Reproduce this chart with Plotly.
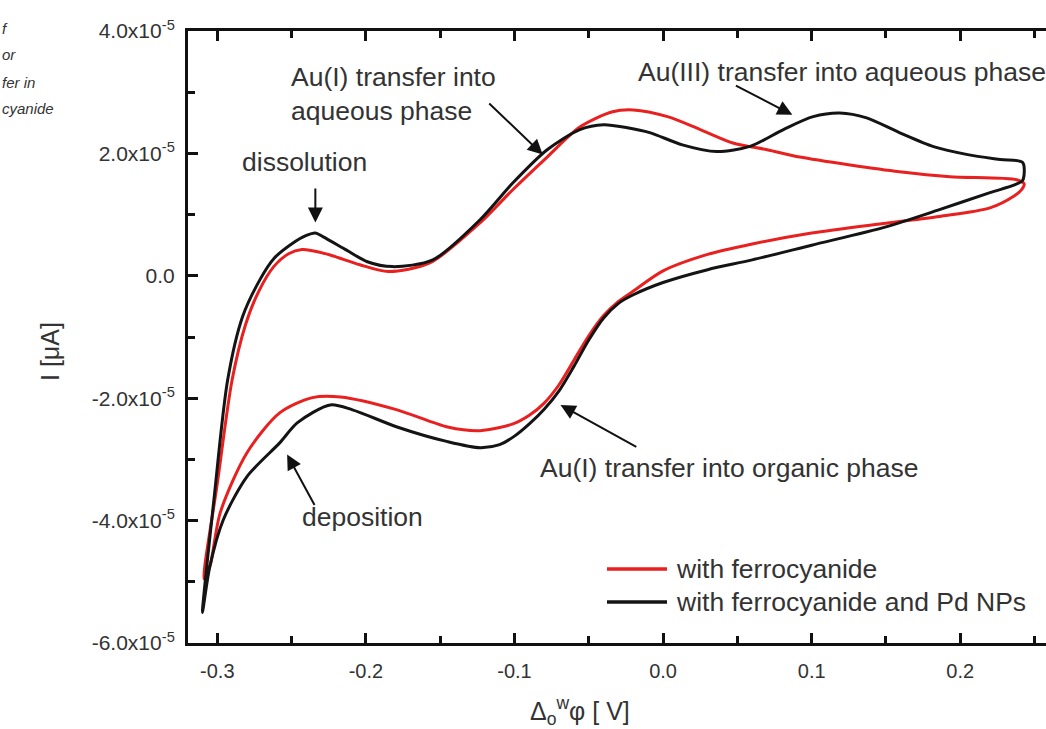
import plotly.graph_objects as go

# Cyclic voltammograms, potential in V, current in units of 1e-5 A
pot_ferro = [-0.309, -0.300, -0.290, -0.281, -0.272, -0.262, -0.252, -0.243, -0.236, -0.224,
             -0.204, -0.185, -0.157, -0.123, -0.101, -0.078, -0.056, -0.034, -0.020, 0.003,
             0.025, 0.047, 0.070, 0.092, 0.126, 0.159, 0.193, 0.238, 0.243,
             0.241, 0.236, 0.220, 0.186, 0.150, 0.100, 0.060, 0.030, 0.000, -0.020,
             -0.030, -0.040, -0.050, -0.060, -0.070, -0.080, -0.090, -0.101, -0.123, -0.145,
             -0.179, -0.217, -0.236, -0.258, -0.280, -0.298, -0.305, -0.309]
cur_ferro = [-4.95, -3.40, -1.70, -0.80, -0.25, 0.15, 0.36, 0.43, 0.41, 0.34,
             0.18, 0.07, 0.21, 0.87, 1.41, 1.94, 2.43, 2.68, 2.71, 2.60,
             2.39, 2.17, 2.06, 1.94, 1.81, 1.70, 1.62, 1.57, 1.50,
             1.40, 1.30, 1.11, 0.97, 0.86, 0.70, 0.52, 0.35, 0.08, -0.25,
             -0.42, -0.65, -0.98, -1.38, -1.78, -2.08, -2.28, -2.42, -2.53, -2.47,
             -2.19, -1.98, -1.99, -2.24, -2.89, -3.87, -4.75, -4.95]

pot_pd = [-0.310, -0.302, -0.293, -0.283, -0.271, -0.262, -0.250, -0.240, -0.234, -0.229,
          -0.213, -0.199, -0.182, -0.155, -0.123, -0.101, -0.078, -0.056, -0.040, -0.024,
          -0.009, 0.013, 0.036, 0.059, 0.081, 0.101, 0.119, 0.137, 0.159, 0.182,
          0.205, 0.227, 0.242,
          0.242, 0.236, 0.220, 0.186, 0.150, 0.100, 0.060, 0.030, 0.000, -0.020,
          -0.030, -0.040, -0.050, -0.060, -0.070, -0.080, -0.090, -0.100, -0.110, -0.123,
          -0.145, -0.179, -0.209, -0.224, -0.246, -0.258, -0.280, -0.296, -0.305, -0.310]
cur_pd = [-5.50, -3.60, -1.70, -0.67, -0.05, 0.28, 0.52, 0.66, 0.70, 0.64,
          0.42, 0.23, 0.15, 0.26, 0.92, 1.52, 2.06, 2.39, 2.47, 2.42,
          2.34, 2.14, 2.03, 2.12, 2.39, 2.60, 2.66, 2.58, 2.34, 2.11,
          1.98, 1.90, 1.85,
          1.56, 1.48, 1.36, 1.08, 0.80, 0.50, 0.26, 0.10, -0.11, -0.31,
          -0.45, -0.69, -1.05, -1.48, -1.88, -2.18, -2.42, -2.62, -2.76, -2.81,
          -2.71, -2.47, -2.19, -2.11, -2.40, -2.73, -3.28, -3.99, -4.75, -5.50]

y_tickvals = [-6, -4, -2, 0, 2, 4]
y_ticktext = ["-6.0x10<sup>-5</sup>", "-4.0x10<sup>-5</sup>", "-2.0x10<sup>-5</sup>",
              "0.0", "2.0x10<sup>-5</sup>", "4.0x10<sup>-5</sup>"]
x_tickvals = [-0.3, -0.2, -0.1, 0.0, 0.1, 0.2]
x_ticktext = ["-0.3", "-0.2", "-0.1", "0.0", "0.1", "0.2"]

series_names = ["with ferrocyanide", "with ferrocyanide and Pd NPs"]
series_colors = ["#e8201f", "#141414"]

TEXT = "#333333"
FONT = "Liberation Sans, Arial, sans-serif"

# plot area in pixels, used to place paper-anchored items
L, R, T, B = 188, 1046, 31, 643


def px_x(px):
    return (px - L) / (R - L)


def px_y(py):
    return (B - py) / (B - T)


fig = go.Figure()
for xs, ys, name, color in [(pot_ferro, cur_ferro, series_names[0], series_colors[0]),
                            (pot_pd, cur_pd, series_names[1], series_colors[1])]:
    fig.add_trace(go.Scatter(
        x=xs, y=ys, mode="lines", name=name, showlegend=False,
        line=dict(color=color, width=3, shape="spline", smoothing=0.8),
    ))

# legend: line swatch plus label for each series
for i, (name, color) in enumerate(zip(series_names, series_colors)):
    row = 569 + 33 * i
    fig.add_shape(type="line", xref="paper", yref="paper",
                  x0=px_x(607), x1=px_x(667), y0=px_y(row), y1=px_y(row),
                  line=dict(color=color, width=3.5))
    fig.add_annotation(x=px_x(674), y=px_y(row), xref="paper", yref="paper", text=name,
                       showarrow=False, xanchor="left", yanchor="middle",
                       font=dict(family=FONT, size=26.5, color=TEXT))

# labelled arrows: (text, text x, text y, tail x, tail y, head x, head y)
notes = [
    ("Au(I) transfer into<br>aqueous phase", -0.252, 2.97, -0.118, 2.84, -0.081, 1.98),
    ("Au(III) transfer into aqueous phase", -0.018, 3.33, 0.048, 3.12, 0.087, 2.63),
    ("dissolution", -0.285, 1.86, -0.234, 1.45, -0.234, 0.87),
    ("deposition", -0.244, -3.94, -0.234, -3.77, -0.253, -2.92),
    ("Au(I) transfer into organic phase", -0.084, -3.14, -0.017, -2.81, -0.069, -2.11),
]
for text, tx, ty, ax, ay, hx, hy in notes:
    fig.add_annotation(x=tx, y=ty, xref="x", yref="y", text=text, showarrow=False,
                       xanchor="left", yanchor="middle", align="left",
                       font=dict(family=FONT, size=26.5, color=TEXT))
    fig.add_annotation(x=hx, y=hy, ax=ax, ay=ay, xref="x", yref="y", axref="x", ayref="y",
                       text="", showarrow=True, arrowhead=2, arrowsize=1.5,
                       arrowwidth=2, arrowcolor="#111111")

# axis titles
fig.add_annotation(x=px_x(50), y=px_y(352), xref="paper", yref="paper", text="I [μA]",
                   textangle=-90, showarrow=False, xanchor="center", yanchor="middle",
                   font=dict(family=FONT, size=25, color=TEXT))
fig.add_annotation(x=px_x(580), y=px_y(711), xref="paper", yref="paper",
                   text="Δ<sub>o</sub><sup>w</sup>φ [ V]", showarrow=False,
                   xanchor="center", yanchor="middle",
                   font=dict(family=FONT, size=25, color=TEXT))

# caption fragment at the left edge
for text, yp in [("f", 28), ("or", 55), ("fer in", 82), ("cyanide", 108)]:
    fig.add_annotation(x=px_x(0), y=px_y(yp), xref="paper", yref="paper",
                       text=f"<i>{text}</i>", showarrow=False, xanchor="left", yanchor="middle",
                       font=dict(family="Liberation Sans Narrow, Arial Narrow, sans-serif",
                                 size=15, color=TEXT))

fig.update_xaxes(range=[-0.3197, 0.2577], tickvals=x_tickvals, ticktext=x_ticktext,
                 showline=True, linewidth=3, linecolor="#111111", mirror="ticks",
                 ticks="inside", ticklen=10, tickwidth=2.5, tickcolor="#111111",
                 minor=dict(ticks="inside", ticklen=7, tickwidth=2.5, dtick=0.05,
                            tick0=0, tickcolor="#111111", showgrid=False),
                 showgrid=False, zeroline=False, ticklabelstandoff=8,
                 tickfont=dict(family=FONT, size=20, color=TEXT))
fig.update_yaxes(range=[-6, 4], tickvals=y_tickvals, ticktext=y_ticktext,
                 showline=True, linewidth=3, linecolor="#111111", mirror=False,
                 ticks="inside", ticklen=10, tickwidth=2.5, tickcolor="#111111",
                 minor=dict(ticks="inside", ticklen=7, tickwidth=2.5, dtick=1,
                            tick0=0, tickcolor="#111111", showgrid=False),
                 showgrid=False, zeroline=False, ticklabelstandoff=6,
                 tickfont=dict(family=FONT, size=21, color=TEXT))

fig.update_layout(
    width=1046, height=729,
    margin=dict(l=L, r=0, t=T, b=729 - B),
    paper_bgcolor="white", plot_bgcolor="white",
    showlegend=False,
)

fig.write_html("out.html")
